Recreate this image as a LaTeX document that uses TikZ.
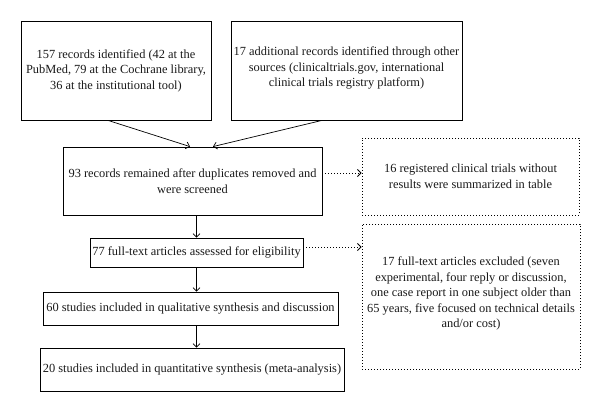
\documentclass[tikz,border=0pt]{standalone}
\usepackage{fontspec}
\setmainfont{Liberation Serif}
\usetikzlibrary{arrows.meta,positioning}
\begin{document}
\begin{tikzpicture}[x=1pt,y=-1pt,
  box/.style={draw=black,line width=0.8pt,rectangle,align=center,inner sep=0pt,
    font=\fontsize{12.4}{15.5}\selectfont,text=black!90},
  dbox/.style={box,dash pattern=on 0.9pt off 2.1pt,line width=0.9pt},
  arr/.style={line width=0.7pt,-{Straight Barb[length=3.5pt,width=7pt]}},
  darr/.style={line width=0.9pt,dash pattern=on 0.9pt off 2.1pt,-{Straight Barb[length=3.5pt,width=7pt]}}]
\useasboundingbox (0,0) rectangle (600,412);
\node[box,minimum width=190pt,minimum height=99pt] (A) at (116,70.5)
  {157 records identified (42 at the\\PubMed, 79 at the Cochrane library,\\36 at the institutional tool)};
\node[box,minimum width=231pt,minimum height=99pt] (B) at (346.5,70.5)
  {17 additional records identified through other\\sources (clinicaltrials.gov, international\\clinical trials registry platform)\\[-8.5pt]};
\node[box,minimum width=259pt,minimum height=68pt] (C) at (192.5,181)
  {\raisebox{-6pt}{93 records remained after duplicates removed and}\\\raisebox{-6pt}{were screened}};
\node[dbox,minimum width=217pt,minimum height=77pt] (D) at (470.5,176.5)
  {16 registered clinical trials without\\results were summarized in table};
\node[box,minimum width=213pt,minimum height=29pt] (E) at (196.5,252.5)
  {77 full-text articles assessed for eligibility};
\node[dbox,minimum width=218pt,minimum height=145pt] (F) at (471,296.5)
  {17 full-text articles excluded (seven\\experimental, four reply or discussion,\\one case report in one subject older than\\65 years, five focused on technical details\\and/or cost)\\[-7.5pt]};
\node[box,minimum width=295pt,minimum height=33pt] (G) at (190.5,308.5)
  {60 studies included in qualitative synthesis and discussion};
\node[box,minimum width=304pt,minimum height=43pt] (H) at (192,369.5)
  {20 studies included in quantitative synthesis (meta-analysis)};
\draw[arr] ([xshift=-8pt]A.south) -- ([xshift=-2.5pt]C.north);
\draw[arr] ([xshift=-24.5pt]B.south) -- ([xshift=20.5pt]C.north);
\draw[arr] (E.north |- C.south) -- (E.north);
\draw[arr] (E.south) -- (E.south |- G.north);
\draw[arr] (E.south |- G.south) -- (E.south |- H.north);
\draw[darr] ([yshift=8pt]C.east) -- ([yshift=8pt]C.east -| D.west);
\draw[darr] ([yshift=5.5pt]E.east) -- ([yshift=5.5pt]E.east -| F.west);
\end{tikzpicture}
\end{document}
